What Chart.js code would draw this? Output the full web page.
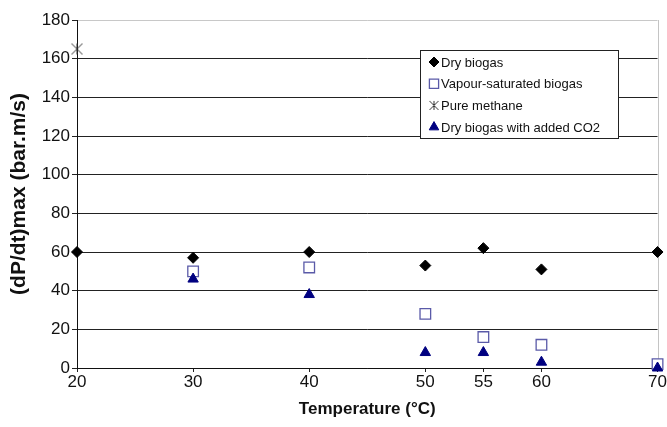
<!DOCTYPE html>
<html><head><meta charset="utf-8">
<script src="https://cdn.jsdelivr.net/npm/chart.js@4"></script>
<style>html,body{margin:0;padding:0;background:#fff}#wrap{width:667px;height:427px}</style>
</head><body><div id="wrap"><canvas id="c" width="667" height="427"></canvas></div>
<script>
const dryX = [20, 30, 40, 50, 55, 60, 70];
const dryY = [60, 57, 60, 53, 62, 51, 60];
const vapX = [30, 40, 50, 55, 60, 70];
const vapY = [50, 52, 28, 16, 12, 2];
const methX = [20];
const methY = [165];
const co2X = [30, 40, 50, 55, 60, 70];
const co2Y = [46, 38, 8, 8, 3, 0];
const xTicks = [20, 30, 40, 50, 55, 60, 70];
const yTicks = [0, 20, 40, 60, 80, 100, 120, 140, 160, 180];
const labels = ['Dry biogas', 'Vapour-saturated biogas', 'Pure methane', 'Dry biogas with added CO2'];

const FONT = '"Liberation Sans", Arial, sans-serif';
function pts(xs, ys) { return xs.map((x, i) => ({x, y: ys[i]})); }

function starCanvas(size) {
  const c = document.createElement('canvas');
  c.width = size; c.height = size;
  const g = c.getContext('2d');
  g.strokeStyle = '#333'; g.lineWidth = 1;
  g.beginPath();
  g.moveTo(1, 1); g.lineTo(size - 1, size - 1);
  g.moveTo(size - 1, 1); g.lineTo(1, size - 1);
  g.moveTo(size / 2, 1); g.lineTo(size / 2, size - 1);
  g.stroke();
  return c;
}
const star = starCanvas(13);
const starSmall = starCanvas(11);

const legendPlugin = {
  id: 'boxLegend',
  afterDatasetsDraw(chart) {
    const ctx = chart.ctx;
    const x0 = 420, y0 = 50, w = 198, h = 88;
    ctx.save();
    ctx.fillStyle = '#fff';
    ctx.fillRect(x0, y0, w, h);
    ctx.strokeStyle = '#222'; ctx.lineWidth = 1;
    ctx.strokeRect(x0 + 0.5, y0 + 0.5, w, h);
    ctx.font = '13px ' + FONT;
    ctx.textBaseline = 'middle';
    chart.data.datasets.forEach((ds, i) => {
      const cy = y0 + 12 + i * 21.7;
      const mx = x0 + 14;
      const style = i === 2 ? starSmall : ds.pointStyle;
      ctx.fillStyle = ds.pointBackgroundColor;
      ctx.strokeStyle = ds.borderColor;
      ctx.lineWidth = ds.borderWidth;
      Chart.helpers.drawPoint(ctx, { pointStyle: style, radius: ds.legendRadius, borderWidth: ds.borderWidth }, mx, cy);
      ctx.fillStyle = '#111';
      ctx.fillText(ds.label, x0 + 21, cy + 1);
    });
    ctx.restore();
  }
};

const borderPlugin = {
  id: 'rightBorder',
  beforeDatasetsDraw(chart) {
    const a = chart.chartArea, ctx = chart.ctx;
    ctx.save();
    ctx.strokeStyle = '#c4c4c4'; ctx.lineWidth = 1;
    ctx.beginPath();
    ctx.moveTo(Math.round(a.right) + 0.5, a.top);
    ctx.lineTo(Math.round(a.right) + 0.5, a.bottom);
    ctx.stroke();
    ctx.restore();
  }
};

const chart = new Chart(document.getElementById('c'), {
  type: 'scatter',
  data: {
    datasets: [
      { label: labels[0], data: pts(dryX, dryY), order: 3, pointStyle: 'rectRot', pointRadius: 5.5, legendRadius: 5, clip: false,
        backgroundColor: '#000', borderColor: '#000', pointBackgroundColor: '#000', borderWidth: 1 },
      { label: labels[1], data: pts(vapX, vapY), order: 2, pointStyle: 'rect', pointRadius: 7.5, legendRadius: 6.5, clip: false,
        backgroundColor: '#fff', borderColor: '#5a5aa8', pointBackgroundColor: '#fff', borderWidth: 1.3 },
      { label: labels[2], data: pts(methX, methY), order: 1, pointStyle: star, pointRadius: 6, legendRadius: 5, clip: false,
        backgroundColor: '#333', borderColor: '#333', pointBackgroundColor: '#333', borderWidth: 1 },
      { label: labels[3], data: pts(co2X, co2Y), order: 0, pointStyle: 'triangle', pointRadius: 6, legendRadius: 5.5, clip: false,
        backgroundColor: '#000080', borderColor: '#000080', pointBackgroundColor: '#000080', borderWidth: 1 }
    ]
  },
  options: {
    responsive: false,
    animation: false,
    layout: { padding: { top: 20, right: 4, left: 0, bottom: 0 } },
    plugins: { legend: { display: false }, tooltip: { enabled: false } },
    scales: {
      x: {
        type: 'linear', min: 20, max: 70,
        afterBuildTicks: s => { s.ticks = xTicks.map(v => ({value: v})); },
        afterFit: s => { s.height = 59; },
        grid: { display: true, drawOnChartArea: false, drawTicks: true, tickLength: 4, color: '#222' },
        border: { display: true, color: '#111', width: 1 },
        ticks: { color: '#111', font: { family: FONT, size: 17 }, padding: 0, maxRotation: 0, autoSkip: false },
        title: { display: true, text: 'Temperature (°C)', color: '#111', font: { family: FONT, size: 17, weight: 'bold' }, padding: { top: 1, bottom: 7 } }
      },
      y: {
        min: 0, max: 180,
        afterBuildTicks: s => { s.ticks = yTicks.map(v => ({value: v})); },
        afterFit: s => { s.width = 77; },
        grid: { color: c => c.tick && c.tick.value === 180 ? '#c8c8c8' : '#222', tickColor: '#222', tickLength: 5, lineWidth: 1 },
        border: { display: true, color: '#111', width: 1 },
        ticks: { color: '#111', font: { family: FONT, size: 17 }, padding: 2 },
        title: { display: true, text: '(dP/dt)max (bar.m/s)', color: '#111', font: { family: FONT, size: 21, weight: 'bold' }, padding: { bottom: 0, top: 7 } }
      }
    }
  },
  plugins: [borderPlugin, legendPlugin]
});
</script></body></html>
